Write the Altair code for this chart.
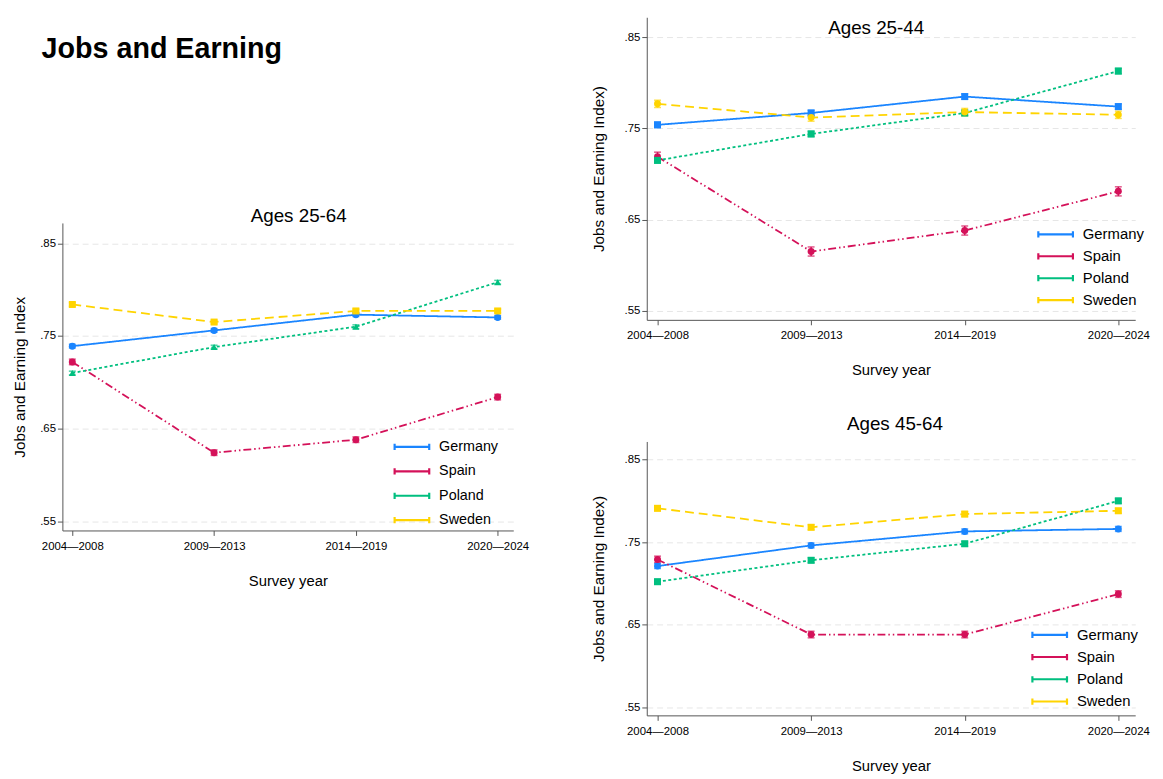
import altair as alt
import pandas as pd

periods = ["2004—2008", "2009—2013", "2014—2019", "2020—2024"]
countries = ["Germany", "Spain", "Poland", "Sweden"]
colors = ["#1A85FF", "#D41159", "#00BF7F", "#FFD400"]
dashes = [[1, 0], [8, 3, 1.5, 3, 1.5, 3], [3, 2.5], [9, 5]]
yticks = [0.55, 0.65, 0.75, 0.85]

# Ages 25-64
a2564_germany = [0.739, 0.756, 0.773, 0.770]
a2564_spain = [0.722, 0.624, 0.638, 0.684]
a2564_poland = [0.710, 0.738, 0.760, 0.808]
a2564_sweden = [0.784, 0.765, 0.777, 0.777]
a2564_ci = [0.002, 0.003, 0.002, 0.002]

# Ages 25-44
a2544_germany = [0.754, 0.767, 0.785, 0.774]
a2544_spain = [0.719, 0.615, 0.638, 0.681]
a2544_poland = [0.715, 0.744, 0.767, 0.813]
a2544_sweden = [0.777, 0.762, 0.768, 0.765]
a2544_ci = [0.003, 0.005, 0.003, 0.004]

# Ages 45-64
a4564_germany = [0.721, 0.746, 0.763, 0.766]
a4564_spain = [0.729, 0.638, 0.638, 0.687]
a4564_poland = [0.702, 0.728, 0.748, 0.800]
a4564_sweden = [0.791, 0.768, 0.784, 0.788]
a4564_ci = [0.003, 0.004, 0.003, 0.003]

FONT = "Liberation Sans"
LEG_PATH = "M-2.5,0L2.5,0M-2.5,-0.45L-2.5,0.45M2.5,-0.45L2.5,0.45"


def build_df(series, ci, shapes):
    rows = []
    for c, vals, hw, shp in zip(countries, series, ci, shapes):
        for i, v in enumerate(vals):
            rows.append({"country": c, "idx": i, "value": v,
                         "lo": v - hw, "hi": v + hw, "shape": shp})
    return pd.DataFrame(rows)


label_expr = "[" + ",".join("'" + p + "'" for p in periods) + "][datum.value]"


def panel(df, title, width, height, ytitle, ytitle_pad, title_offset, title_dx,
          leg_x, leg_y, leg_font, row_pad):
    xenc = alt.X("idx:Q",
                 scale=alt.Scale(domain=[-0.07, 3.11], nice=False, zero=False),
                 axis=alt.Axis(values=[0, 1, 2, 3], labelExpr=label_expr,
                               title="Survey year", grid=False, tickSize=5,
                               labelPadding=5, titlePadding=22,
                               labelFontSize=11.5, titleFontSize=15,
                               labelFont=FONT, titleFont=FONT,
                               titleFontWeight="normal", labelColor="#000",
                               titleColor="#000", domainColor="#555",
                               tickColor="#555"))
    yscale = alt.Scale(domain=[0.54, 0.872], nice=False, zero=False)
    yaxis = alt.Axis(values=yticks,
                     labelExpr="replace(format(datum.value, '.2f'), '0.', '.')",
                     title=ytitle, grid=True, gridDash=[6, 4],
                     gridColor="#e6e6e6", tickSize=5, labelPadding=2,
                     titlePadding=ytitle_pad, labelFontSize=11.5,
                     titleFontSize=15.5, labelFont=FONT, titleFont=FONT,
                     titleFontWeight="normal", labelColor="#000",
                     titleColor="#000", domainColor="#555", tickColor="#555")
    cscale = alt.Scale(domain=countries, range=colors)
    base = alt.Chart(df)
    rules = base.mark_rule(strokeWidth=1.5).encode(
        x=xenc, y=alt.Y("lo:Q", scale=yscale, axis=yaxis), y2="hi:Q",
        color=alt.Color("country:N", scale=cscale, sort=countries,
                        legend=alt.Legend(
                            title=None, orient="none", legendX=leg_x,
                            legendY=leg_y, symbolType=LEG_PATH,
                            symbolSize=196, symbolStrokeWidth=2.2,
                            symbolDash=[1, 0],
                            labelFontSize=leg_font, labelFont=FONT,
                            labelColor="#000", labelOffset=19,
                            rowPadding=row_pad, padding=0)))
    caps_lo = base.mark_tick(orient="horizontal", size=7, thickness=1.5).encode(
        x="idx:Q", y=alt.Y("lo:Q", scale=yscale),
        color=alt.Color("country:N", scale=cscale, legend=None))
    caps_hi = base.mark_tick(orient="horizontal", size=7, thickness=1.5).encode(
        x="idx:Q", y=alt.Y("hi:Q", scale=yscale),
        color=alt.Color("country:N", scale=cscale, legend=None))
    line_layers = []
    for c, d in zip(countries, dashes):
        line_layers.append(
            base.transform_filter(alt.datum.country == c)
            .mark_line(strokeWidth=1.8, strokeDash=d)
            .encode(x="idx:Q", y=alt.Y("value:Q", scale=yscale),
                    color=alt.Color("country:N", scale=cscale, legend=None)))
    pts = base.mark_point(filled=True, size=50, opacity=1).encode(
        x="idx:Q", y=alt.Y("value:Q", scale=yscale),
        color=alt.Color("country:N", scale=cscale, legend=None),
        shape=alt.Shape("shape:N", scale=None, legend=None))
    return alt.layer(rules, caps_lo, caps_hi, *line_layers, pts).properties(
        width=width, height=height,
        title=alt.TitleParams(title, fontSize=19, font=FONT,
                              fontWeight="normal", color="#000",
                              offset=title_offset, dx=title_dx))


df1 = build_df([a2564_germany, a2564_spain, a2564_poland, a2564_sweden],
               a2564_ci, ["circle", "circle", "triangle-up", "square"])
df2 = build_df([a2544_germany, a2544_spain, a2544_poland, a2544_sweden],
               a2544_ci, ["square", "circle", "square", "circle"])
df3 = build_df([a4564_germany, a4564_spain, a4564_poland, a4564_sweden],
               a4564_ci, ["circle", "circle", "square", "square"])

left = panel(df1, "Ages 25-64", 456, 311, "Jobs and Earning Index", 12,
             -3, 11, 345, 218, 14.5, 7.7)
rtop = panel(df2, "Ages 25-44", 494, 306, "Jobs and Earning Index)", 18,
             -21, -15, 405, 211, 15, 5.2)
rbot = panel(df3, "Ages 45-64", 494, 277, "Jobs and Earning Index)", 18,
             8, 4, 399, 187, 15, 5.5)

spacer = alt.Chart(pd.DataFrame({"v": [0]})).mark_point(opacity=0).encode(
    x=alt.X("v:Q", axis=None), y=alt.Y("v:Q", axis=None)
).properties(width=456, height=18,
             title=alt.TitleParams("Jobs and Earning", fontSize=29,
                                   fontWeight="bold", font=FONT, color="#000",
                                   anchor="start", orient="bottom",
                                   offset=0, dx=-21))

left_col = alt.vconcat(spacer, left, spacing=145).resolve_scale(
    color="independent", shape="independent"
).resolve_legend(color="independent")
right_col = alt.vconcat(rtop, rbot, spacing=37).resolve_scale(
    color="independent", shape="independent"
).resolve_legend(color="independent")

chart = alt.hconcat(left_col, right_col, spacing=63).resolve_scale(
    color="independent", shape="independent"
).resolve_legend(color="independent"
).properties(background="white").configure_view(stroke=None)

chart.save("out.html", embed_options={"renderer": "svg", "actions": False})
